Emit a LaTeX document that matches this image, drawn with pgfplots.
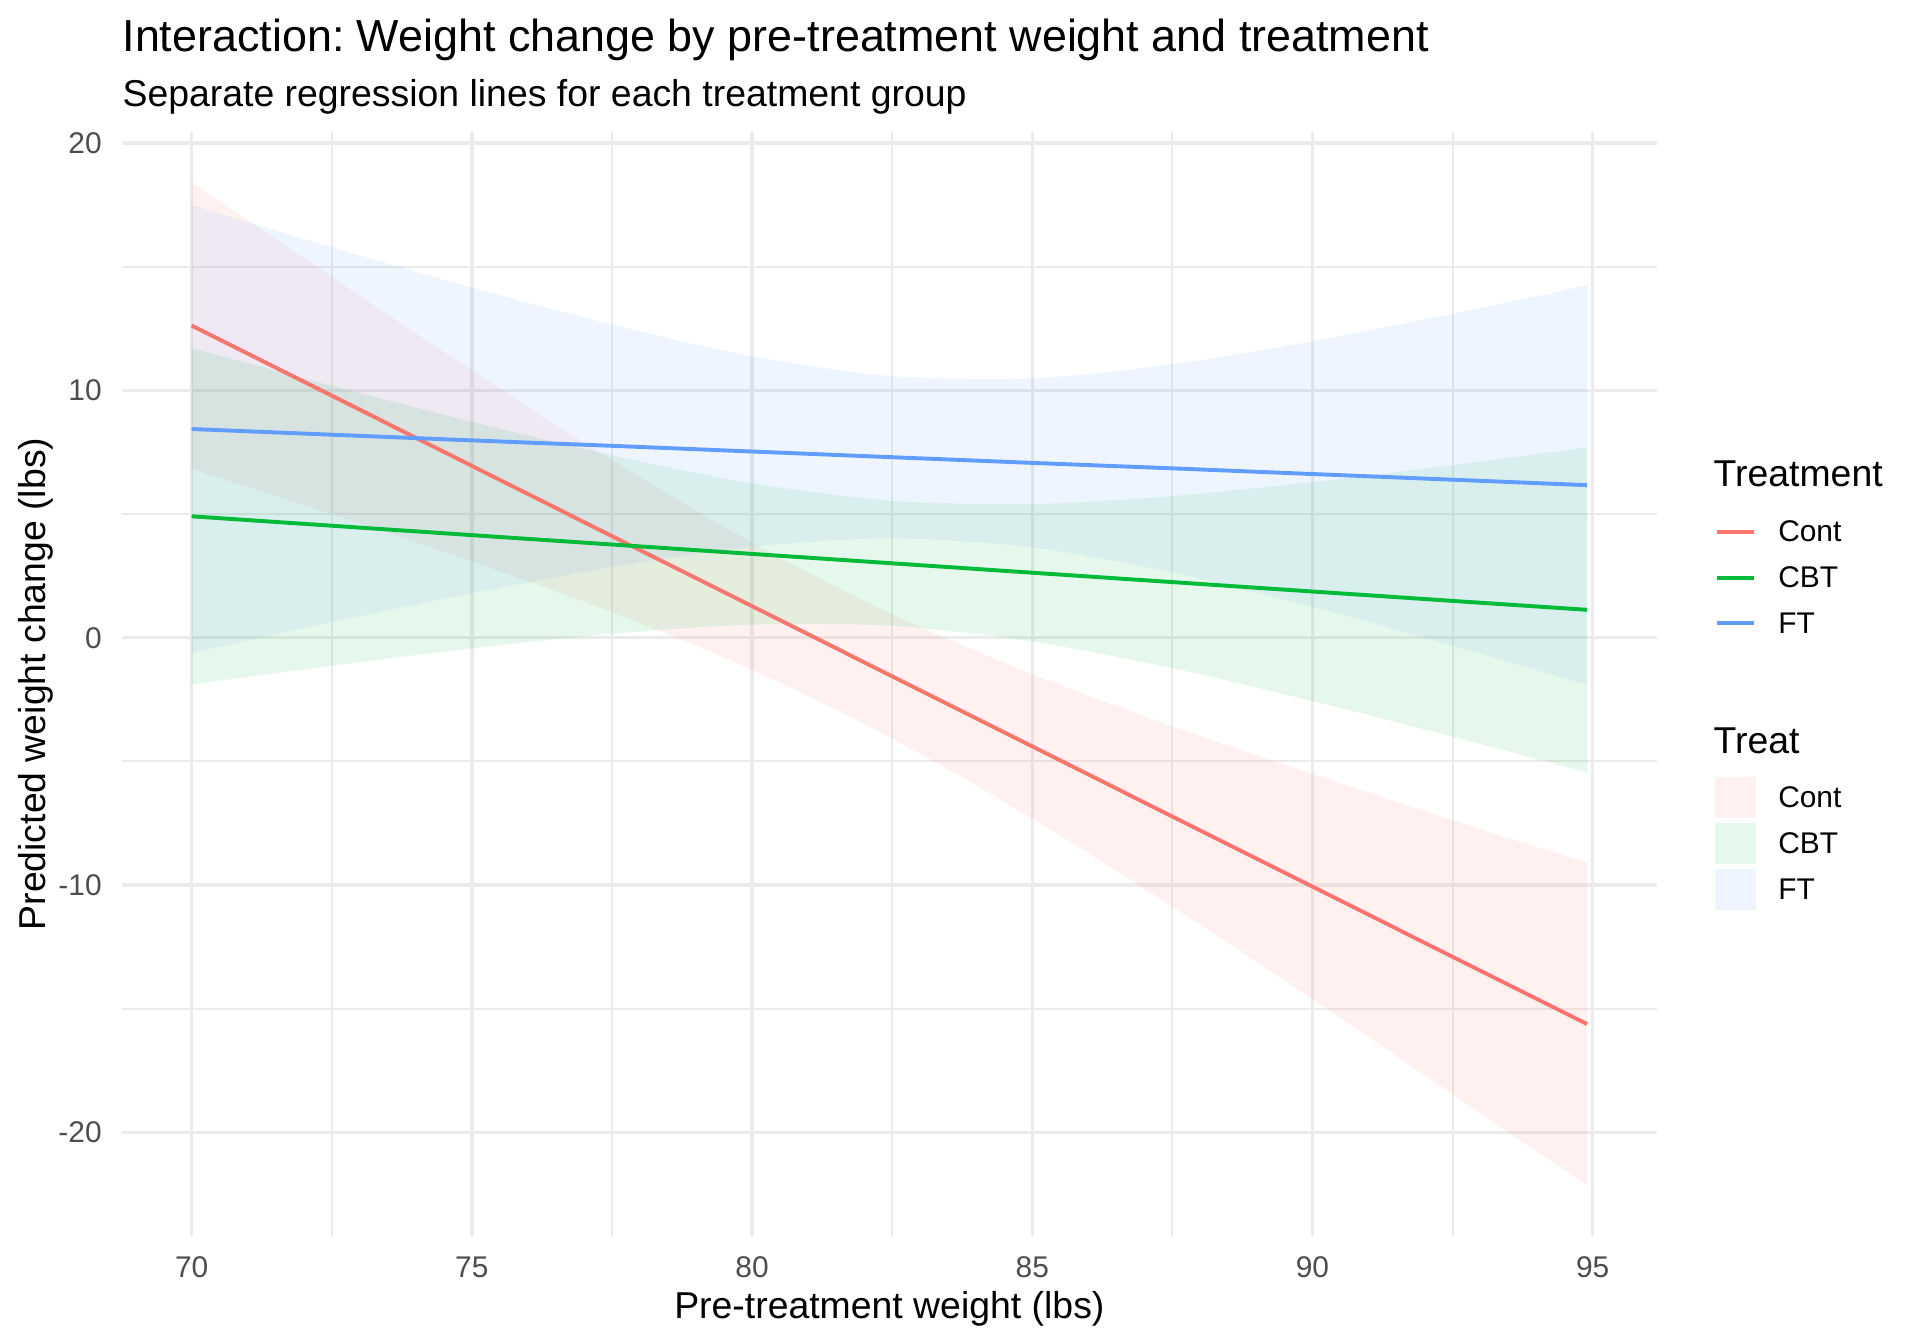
\documentclass[border=0pt]{standalone}
\usepackage{pgfplots}
\pgfplotsset{compat=1.18}
\usepackage{pgfplotstable}
\usepgfplotslibrary{fillbetween}
\usepackage{fontspec}
\setmainfont{Liberation Sans}
\frenchspacing

\definecolor{cont}{HTML}{F8766D}
\definecolor{cbt}{HTML}{00BA38}
\definecolor{ft}{HTML}{619CFF}
\definecolor{gridgrey}{HTML}{EBEBEB}
\definecolor{ticktext}{HTML}{4D4D4D}

% fitted line and confidence band, per treatment group
\pgfplotstableread{
x    fit    lo     hi
70   12.62  6.83   18.41
72.5 9.79   5.00   14.58
75   6.95   3.09   10.81
77.5 4.11   1.03   7.19
80   1.28   -1.29  3.85
82.5 -1.56  -4.07  0.95
85   -4.39  -7.31  -1.47
87.5 -7.23  -10.88 -3.58
90   -10.06 -14.61 -5.51
92.5 -12.90 -18.46 -7.38
94.9 -15.62 -22.15 -9.09
}\conttab

\pgfplotstableread{
x    fit   lo    hi
70   4.91  -1.89 11.71
72.5 4.53  -1.13 10.19
75   4.15  -0.43 8.73
77.5 3.77  0.16  7.38
80   3.39  0.53  6.25
82.5 3.01  0.48  5.54
85   2.63  -0.15 5.41
87.5 2.25  -1.23 5.73
90   1.87  -2.56 6.30
92.5 1.49  -4.00 6.98
94.9 1.13  -5.44 7.70
}\cbttab

\pgfplotstableread{
x    fit   lo    hi
70   8.44  -0.61 17.49
72.5 8.21  0.63  15.79
75   7.98  1.80  14.16
77.5 7.76  2.86  12.66
80   7.53  3.68  11.38
82.5 7.30  4.02  10.58
85   7.07  3.65  10.49
87.5 6.85  2.64  11.06
90   6.62  1.25  11.99
92.5 6.39  -0.32 13.10
94.9 6.17  -1.91 14.25
}\fttab

\begin{document}
\begin{tikzpicture}
\begin{axis}[
  scale only axis,
  width=451.5pt, height=324.6pt,
  xmin=68.755, xmax=96.145,
  ymin=-24.18, ymax=20.44,
  xtick={70,75,80,85,90,95},
  minor xtick={72.5,77.5,82.5,87.5,92.5},
  ytick={-20,-10,0,10,20},
  yticklabels={-20,-10,0,10,20},
  minor ytick={-15,-5,5,15},
  grid=both,
  major grid style={line width=1pt, gridgrey},
  minor grid style={line width=0.55pt, gridgrey},
  axis line style={draw=none},
  tick style={draw=none},
  /pgf/number format/assume math mode=true,
  ticklabel style={font=\fontsize{8.8}{10}\selectfont, text=ticktext},
  xticklabel style={yshift=-2.7pt},
  yticklabel style={xshift=-2.4pt},
]
% confidence bands
\addplot[name path=contHi, draw=none, smooth] table[x=x, y=hi]{\conttab};
\addplot[name path=contLo, draw=none, smooth] table[x=x, y=lo]{\conttab};
\addplot[fill=cont, fill opacity=0.1, draw=none] fill between[of=contHi and contLo];

\addplot[name path=cbtHi, draw=none, smooth] table[x=x, y=hi]{\cbttab};
\addplot[name path=cbtLo, draw=none, smooth] table[x=x, y=lo]{\cbttab};
\addplot[fill=cbt, fill opacity=0.1, draw=none] fill between[of=cbtHi and cbtLo];

\addplot[name path=ftHi, draw=none, smooth] table[x=x, y=hi]{\fttab};
\addplot[name path=ftLo, draw=none, smooth] table[x=x, y=lo]{\fttab};
\addplot[fill=ft, fill opacity=0.1, draw=none] fill between[of=ftHi and ftLo];

% regression lines
\addplot[cont, line width=1.15pt] table[x=x, y=fit]{\conttab};
\addplot[cbt, line width=1.15pt] table[x=x, y=fit]{\cbttab};
\addplot[ft, line width=1.15pt] table[x=x, y=fit]{\fttab};
\end{axis}

% titles
\node[anchor=base west, inner sep=0pt, font=\fontsize{13.2}{15}\selectfont] at (0pt,348.3pt)
  {Interaction: Weight change by pre-treatment weight and treatment};
\node[anchor=base west, inner sep=0pt, font=\fontsize{11}{13}\selectfont] at (0pt,332.1pt)
  {Separate regression lines for each treatment group};

% axis titles
\node[anchor=base, inner sep=0pt, font=\fontsize{11}{13}\selectfont] at (225.75pt,-24.2pt)
  {Pre-treatment weight (lbs)};
\node[anchor=base, rotate=90, inner sep=0pt, font=\fontsize{11}{13}\selectfont] at (-22.6pt,162.3pt)
  {Predicted weight change (lbs)};

% legend: colour
\node[anchor=base west, inner sep=0pt, font=\fontsize{11}{13}\selectfont] at (468.0pt,220.3pt) {Treatment};
\draw[cont, line width=1.15pt] (469.2pt,207.1pt) -- (480.1pt,207.1pt);
\draw[cbt, line width=1.15pt] (469.2pt,193.6pt) -- (480.1pt,193.6pt);
\draw[ft, line width=1.15pt] (469.2pt,180.2pt) -- (480.1pt,180.2pt);
\begin{scope}[every node/.style={anchor=west, inner sep=0pt, font=\fontsize{8.8}{10}\selectfont}]
\node at (487.0pt,207.1pt) {Cont};
\node at (487.0pt,193.6pt) {CBT};
\node at (487.0pt,180.2pt) {FT};
\end{scope}

% legend: fill
\node[anchor=base west, inner sep=0pt, font=\fontsize{11}{13}\selectfont] at (468.0pt,142.0pt) {Treat};
\fill[cont, fill opacity=0.1] (468.6pt,122.9pt) rectangle (480.7pt,134.9pt);
\fill[cbt, fill opacity=0.1] (468.6pt,109.3pt) rectangle (480.7pt,121.4pt);
\fill[ft, fill opacity=0.1] (468.6pt,95.7pt) rectangle (480.7pt,107.9pt);
\begin{scope}[every node/.style={anchor=west, inner sep=0pt, font=\fontsize{8.8}{10}\selectfont}]
\node at (487.0pt,128.9pt) {Cont};
\node at (487.0pt,115.35pt) {CBT};
\node at (487.0pt,101.8pt) {FT};
\end{scope}

\pgfresetboundingbox
\path (-35.85pt,-31.8pt) rectangle (528.9pt,363.5pt);
\end{tikzpicture}
\end{document}
